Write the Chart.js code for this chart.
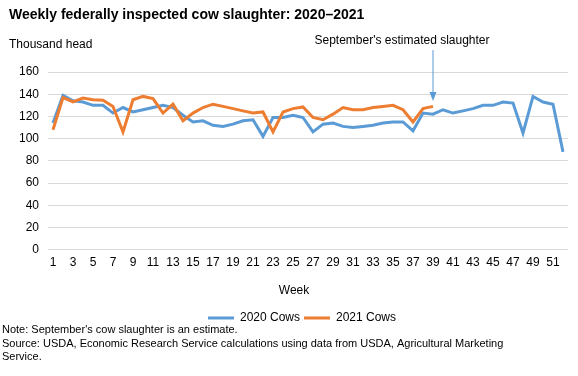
<!DOCTYPE html>
<html>
<head>
<meta charset="utf-8">
<script src="https://cdn.jsdelivr.net/npm/chart.js@4.4.1/dist/chart.umd.min.js"></script>
<style>
  html, body { margin: 0; padding: 0; background: #fff; }
</style>
</head>
<body>
<canvas id="cowChart" width="578" height="376"></canvas>
<script>
// weekly categories
const weeks = ['1', '2', '3', '4', '5', '6', '7', '8', '9', '10', '11', '12', '13',
  '14', '15', '16', '17', '18', '19', '20', '21', '22', '23', '24', '25', '26',
  '27', '28', '29', '30', '31', '32', '33', '34', '35', '36', '37', '38', '39',
  '40', '41', '42', '43', '44', '45', '46', '47', '48', '49', '50', '51', '52'];

// thousand head
const cows2020 = [114, 139, 134, 133, 130, 130, 123, 128, 124, 126, 128, 130, 128,
  121, 115, 116, 112, 111, 113, 116, 117, 102, 119, 119, 121, 119,
  106, 113, 114, 111, 110, 111, 112, 114, 115, 115, 107, 123, 122,
  126, 123, 125, 127, 130, 130, 133, 132, 105, 138, 133, 131, 88];

const cows2021 = [108, 137, 133, 136.5, 135, 134.5, 129, 106, 135, 138, 136, 123, 131,
  116, 123, 128, 131, 129, 127, 125, 123, 124, 106, 124, 127, 128.5,
  119, 117, 122, 128, 126, 126, 128, 129, 130, 126, 115, 127, 129];

const seriesNames = ['2020 Cows', '2021 Cows'];
const chartTitle = 'Weekly federally inspected cow slaughter: 2020\u20132021';
const yAxisLabel = 'Thousand head';
const xAxisLabel = 'Week';
const arrowLabel = "September's estimated slaughter";
const arrowWeek = '39';
const noteLines = [
  "Note: September's cow slaughter is an estimate.",
  'Source: USDA, Economic Research Service calculations using data from USDA, Agricultural Marketing',
  'Service.'
];

const FONT = 'Arial, "Liberation Sans", sans-serif';
const BLUE = '#5B9BD5';
const ORANGE = '#ED7D31';

// extra texts and the annotation arrow
const extraText = {
  id: 'extraText',
  afterLayout(chart) {
    // legend sits a bit right of the canvas centre
    chart.legend.left += 18;
    chart.legend.right += 18;
  },
  afterDraw(chart) {
    const ctx = chart.ctx;
    ctx.save();
    ctx.fillStyle = '#000';
    ctx.textBaseline = 'middle';
    ctx.textAlign = 'left';
    ctx.font = 'bold 14px ' + FONT;
    ctx.fillText(chartTitle, 9, 15);

    ctx.font = '12px ' + FONT;
    ctx.fillText(yAxisLabel, 9, 45);

    ctx.textAlign = 'center';
    ctx.fillText(xAxisLabel, 294, chart.chartArea.bottom + 41);

    // annotation
    const ax = chart.scales.x.getPixelForValue(weeks.indexOf(arrowWeek));
    ctx.fillText(arrowLabel, 402, 41);
    ctx.strokeStyle = BLUE;
    ctx.fillStyle = BLUE;
    ctx.lineWidth = 1;
    ctx.beginPath();
    ctx.moveTo(ax, 50);
    ctx.lineTo(ax, 93);
    ctx.stroke();
    ctx.beginPath();
    ctx.moveTo(ax - 3.5, 92);
    ctx.lineTo(ax + 3.5, 92);
    ctx.lineTo(ax, 101);
    ctx.closePath();
    ctx.fill();

    // notes
    ctx.fillStyle = '#000';
    ctx.textAlign = 'left';
    ctx.font = '11px ' + FONT;
    noteLines.forEach((line, i) => {
      ctx.fillText(line, 2, 330 + i * 13.5);
    });
    ctx.restore();
  }
};

const ctx = document.getElementById('cowChart').getContext('2d');
new Chart(ctx, {
  type: 'line',
  data: {
    labels: weeks,
    datasets: [{
      label: seriesNames[0],
      data: cows2020,
      borderColor: BLUE,
      backgroundColor: BLUE,
      borderWidth: 3,
      pointRadius: 0,
      tension: 0,
      order: 1
    }, {
      label: seriesNames[1],
      data: cows2021,
      borderColor: ORANGE,
      backgroundColor: ORANGE,
      borderWidth: 3,
      pointRadius: 0,
      tension: 0,
      order: 0
    }]
  },
  options: {
    responsive: false,
    animation: false,
    layout: {
      padding: { top: 72, left: 0, right: 10, bottom: 42 }
    },
    plugins: {
      legend: {
        position: 'bottom',
        labels: {
          font: { family: FONT, size: 12 },
          color: '#000',
          boxWidth: 26,
          boxHeight: 3,
          padding: 4,
          sort: (a, b) => a.datasetIndex - b.datasetIndex,
          generateLabels(chart) {
            const items = Chart.defaults.plugins.legend.labels.generateLabels(chart);
            items.forEach(it => { it.lineWidth = 0; });
            return items;
          }
        }
      },
      tooltip: { enabled: false }
    },
    scales: {
      x: {
        offset: true,
        afterFit: (scale) => { scale.height += 32; },
        grid: { display: false, drawTicks: false },
        border: { display: false },
        ticks: {
          autoSkip: false,
          maxRotation: 0,
          padding: 6,
          color: '#000',
          font: { family: FONT, size: 12 },
          callback: (val, i) => (i % 2 === 0 ? weeks[i] : '')
        }
      },
      y: {
        min: 0,
        max: 160,
        afterFit: (scale) => { scale.width = 48; },
        grid: { color: '#D9D9D9', lineWidth: 1, drawTicks: false },
        border: { display: false },
        ticks: {
          stepSize: 20,
          padding: 9,
          color: '#000',
          font: { family: FONT, size: 12 }
        }
      }
    }
  },
  plugins: [extraText]
});
</script>
</body>
</html>
